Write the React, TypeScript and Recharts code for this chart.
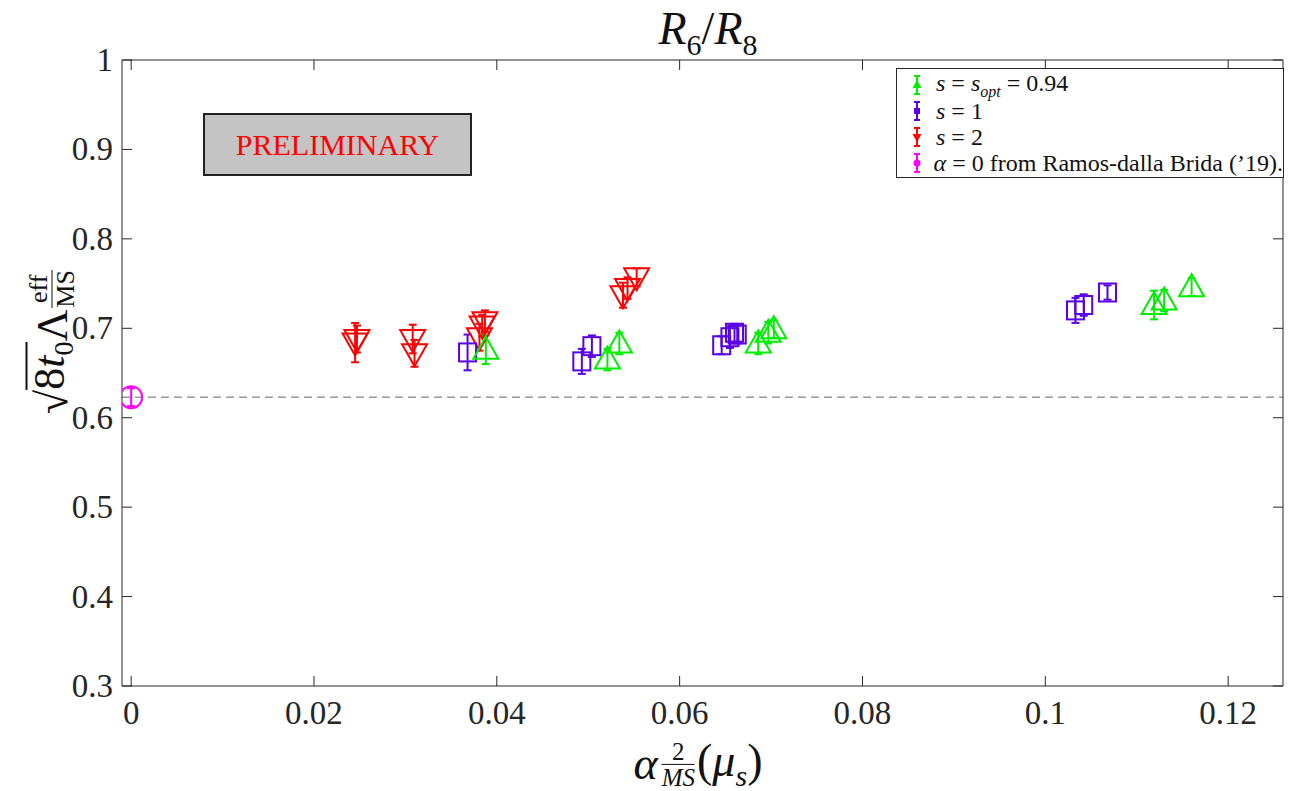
import { ScatterChart, Scatter, XAxis, YAxis, ErrorBar, ReferenceLine } from 'recharts';

// s = s_opt = 0.94 (green, up triangles)
const greenX = [0.0388, 0.0521, 0.0534, 0.0686, 0.0697, 0.0703, 0.1119, 0.1130, 0.1160];
const greenY = [0.676, 0.665, 0.683, 0.683, 0.695, 0.699, 0.726, 0.731, 0.746];
const greenErr = [0.016, 0.012, 0.012, 0.012, 0.012, 0.010, 0.016, 0.012, 0.010];

// s = 1 (blue, squares)
const blueX = [0.0368, 0.0493, 0.0504, 0.0646, 0.0655, 0.0660, 0.0663, 0.1033, 0.1042, 0.1068];
const blueY = [0.673, 0.663, 0.680, 0.681, 0.690, 0.695, 0.693, 0.720, 0.726, 0.740];
const blueErr = [0.020, 0.014, 0.012, 0.010, 0.012, 0.010, 0.010, 0.014, 0.012, 0.008];

// s = 2 (red, down triangles)
const redX = [0.0245, 0.0247, 0.0308, 0.0310, 0.0381, 0.0384, 0.0387, 0.0538, 0.0543, 0.0553];
const redY = [0.684, 0.688, 0.688, 0.672, 0.690, 0.703, 0.708, 0.737, 0.745, 0.757];
const redErr = [0.022, 0.015, 0.016, 0.015, 0.015, 0.012, 0.012, 0.014, 0.012, 0.010];

// alpha = 0 reference point
const magX = [0];
const magY = [0.623];
const magErr = [0.01];

const xTicks = [0, 0.02, 0.04, 0.06, 0.08, 0.1, 0.12];
const yTicks = [0.3, 0.4, 0.5, 0.6, 0.7, 0.8, 0.9, 1];

const GREEN = '#00ee00';
const BLUE = '#5a00e6';
const RED = '#ff0000';
const MAGENTA = '#ff00ff';
const AX = '#262626';
const SERIF = '"Liberation Serif", "DejaVu Serif", serif';

const toPoints = (xs: number[], ys: number[], es: number[]) =>
    xs.map((x, i) => ({ x, y: ys[i], e: es[i] }));

const greenData = toPoints(greenX, greenY, greenErr);
const blueData = toPoints(blueX, blueY, blueErr);
const redData = toPoints(redX, redY, redErr);
const magData = toPoints(magX, magY, magErr);

const fmtX = (v: number) => String(+v.toFixed(2));
const fmtY = (v: number) => (v === 1 ? '1' : v.toFixed(1));

const TriUp = (color: string) => (props: any) => {
    const { cx, cy } = props;
    return <polygon points={`${cx},${cy - 13} ${cx - 12.5},${cy + 9} ${cx + 12.5},${cy + 9}`} fill="none" stroke={color} strokeWidth={2} />;
};
const TriDown = (color: string) => (props: any) => {
    const { cx, cy } = props;
    return <polygon points={`${cx},${cy + 13} ${cx - 12.5},${cy - 9} ${cx + 12.5},${cy - 9}`} fill="none" stroke={color} strokeWidth={2} />;
};
const Square = (color: string) => (props: any) => {
    const { cx, cy } = props;
    return <rect x={cx - 8.5} y={cy - 9} width={17} height={18} fill="none" stroke={color} strokeWidth={2} />;
};
const Circ = (color: string) => (props: any) => {
    const { cx, cy } = props;
    return <circle cx={cx} cy={cy} r={11} fill="none" stroke={color} strokeWidth={2} />;
};

const XTick = (props: any) => {
    const { x, y, payload } = props;
    return (
        <g>
            <line x1={x} x2={x} y1={y} y2={y - 10} stroke={AX} />
            <text x={x} y={y + 38} textAnchor="middle" fontSize={33} style={{ fontFamily: SERIF }} fill={AX}>{fmtX(payload.value)}</text>
        </g>
    );
};
const YTick = (props: any) => {
    const { x, y, payload } = props;
    return (
        <g>
            <line x1={x} x2={x + 10} y1={y} y2={y} stroke={AX} />
            <text x={x - 9} y={y + 11} textAnchor="end" fontSize={33} style={{ fontFamily: SERIF }} fill={AX}>{fmtY(payload.value)}</text>
        </g>
    );
};
const TopTick = (props: any) => {
    const { x, y } = props;
    return <line x1={x} x2={x} y1={y} y2={y + 10} stroke={AX} />;
};
const RightTick = (props: any) => {
    const { x, y } = props;
    return <line x1={x} x2={x - 10} y1={y} y2={y} stroke={AX} />;
};

const LegendMark = ({ color, kind }: { color: string; kind: string }) => (
    <svg width={16} height={24} style={{ display: 'block' }}>
        <line x1={8} x2={8} y1={3} y2={21} stroke={color} strokeWidth={2} />
        <line x1={5} x2={11} y1={3} y2={3} stroke={color} strokeWidth={2} />
        <line x1={5} x2={11} y1={21} y2={21} stroke={color} strokeWidth={2} />
        {kind === 'up' && <polygon points="8,7 3.5,15 12.5,15" fill={color} />}
        {kind === 'down' && <polygon points="8,17 3.5,9 12.5,9" fill={color} />}
        {kind === 'sq' && <rect x={5} y={9} width={6} height={6} fill={color} />}
        {kind === 'circ' && <circle cx={8} cy={12} r={3.5} fill={color} />}
    </svg>
);

const legendItems = [
    { color: GREEN, kind: 'up', label: <><i>s</i> = <i>s</i><sub style={{ fontSize: 16 }}><i>opt</i></sub> = 0.94</> },
    { color: BLUE, kind: 'sq', label: <><i>s</i> = 1</> },
    { color: RED, kind: 'down', label: <><i>s</i> = 2</> },
    { color: MAGENTA, kind: 'circ', label: <><i>α</i> = 0 from Ramos-dalla Brida (’19).</> },
];

export default function App() {
    return (
        <div style={{ position: 'absolute', left: 0, top: 0, width: 1299, height: 791, background: '#fff', fontFamily: SERIF, color: AX }}>
            <ScatterChart width={1299} height={791} margin={{ top: 59, right: 15, bottom: 104, left: 121 }}>
                <XAxis dataKey="x" type="number" domain={[-0.001, 0.126]} ticks={xTicks} allowDataOverflow height={1}
                    tickSize={0} tickMargin={0} tickLine={false} interval={0} axisLine={{ stroke: AX }} tick={XTick} />
                <XAxis xAxisId="top" orientation="top" dataKey="x" type="number" domain={[-0.001, 0.126]} ticks={xTicks} allowDataOverflow height={1}
                    tickSize={0} tickMargin={0} tickLine={false} interval={0} axisLine={{ stroke: AX }} tick={TopTick} />
                <YAxis dataKey="y" type="number" domain={[0.3, 1]} ticks={yTicks} allowDataOverflow width={1}
                    tickSize={0} tickMargin={0} tickLine={false} interval={0} axisLine={{ stroke: AX }} tick={YTick} />
                <YAxis yAxisId="right" orientation="right" dataKey="y" type="number" domain={[0.3, 1]} ticks={yTicks} allowDataOverflow width={1}
                    tickSize={0} tickMargin={0} tickLine={false} interval={0} axisLine={{ stroke: AX }} tick={RightTick} />
                <ReferenceLine y={0.623} stroke="#666" strokeDasharray="8 5" strokeWidth={1} />
                <Scatter data={magData} shape={Circ(MAGENTA)} isAnimationActive={false}>
                    <ErrorBar dataKey="e" direction="y" width={4} stroke={MAGENTA} strokeWidth={2} />
                </Scatter>
                <Scatter data={redData} shape={TriDown(RED)} isAnimationActive={false}>
                    <ErrorBar dataKey="e" direction="y" width={4} stroke={RED} strokeWidth={2} />
                </Scatter>
                <Scatter data={blueData} shape={Square(BLUE)} isAnimationActive={false}>
                    <ErrorBar dataKey="e" direction="y" width={4} stroke={BLUE} strokeWidth={2} />
                </Scatter>
                <Scatter data={greenData} shape={TriUp(GREEN)} isAnimationActive={false}>
                    <ErrorBar dataKey="e" direction="y" width={4} stroke={GREEN} strokeWidth={2} />
                </Scatter>
            </ScatterChart>

            {/* title */}
            <div style={{ position: 'absolute', left: 708, top: 33, transform: 'translate(-50%,-50%)', fontSize: 46, lineHeight: 1, whiteSpace: 'nowrap', color: '#111' }}>
                <i>R</i><sub style={{ fontSize: 30 }}>6</sub>/<i>R</i><sub style={{ fontSize: 30 }}>8</sub>
            </div>

            {/* y label */}
            <div style={{ position: 'absolute', left: 52, top: 342, transform: 'translate(-50%,-50%) rotate(-90deg)', fontSize: 44, whiteSpace: 'nowrap', color: '#111', display: 'flex', alignItems: 'center' }}>
                <span>√</span>
                <span style={{ borderTop: '2px solid #111', lineHeight: 1.0 }}>8<i>t</i><sub style={{ fontSize: 28 }}>0</sub></span>
                <span>Λ</span>
                <span style={{ display: 'inline-flex', flexDirection: 'column', fontSize: 26, lineHeight: 1, alignItems: 'center', marginLeft: 2 }}>
                    <span>eff</span>
                    <span style={{ borderTop: '1.5px solid #111' }}>MS</span>
                </span>
            </div>

            {/* x label */}
            <div style={{ position: 'absolute', left: 698, top: 764, transform: 'translate(-50%,-50%)', fontSize: 46, lineHeight: 1.1, whiteSpace: 'nowrap', color: '#111', display: 'flex', alignItems: 'center' }}>
                <i style={{ marginRight: 4 }}>α</i>
                <span style={{ display: 'inline-flex', flexDirection: 'column', fontSize: 25, lineHeight: 1, alignItems: 'center' }}>
                    <span style={{ borderBottom: '1.5px solid #111', width: '100%', textAlign: 'center' }}>2</span>
                    <i>MS</i>
                </span>
                <span style={{ marginLeft: 2 }}>(<i>μ</i><sub style={{ fontSize: 30 }}><i>s</i></sub>)</span>
            </div>

            {/* preliminary stamp */}
            <div style={{ position: 'absolute', left: 203, top: 113, width: 269, height: 63, boxSizing: 'border-box', background: '#c4c4c4', border: '2px solid #222', display: 'flex', alignItems: 'center', justifyContent: 'center', color: '#ff0000', fontSize: 30 }}>
                PRELIMINARY
            </div>

            {/* legend */}
            <div style={{ position: 'absolute', left: 896, top: 68, width: 388, height: 110, boxSizing: 'border-box', background: '#fff', border: '1px solid #262626', padding: '3px 0 0 12px', fontSize: 24, color: '#111' }}>
                {legendItems.map((it, i) => (
                    <div key={i} style={{ display: 'flex', alignItems: 'center', height: 26 }}>
                        <LegendMark color={it.color} kind={it.kind} />
                        <span style={{ marginLeft: 11, whiteSpace: 'nowrap' }}>{it.label}</span>
                    </div>
                ))}
            </div>
        </div>
    );
}
